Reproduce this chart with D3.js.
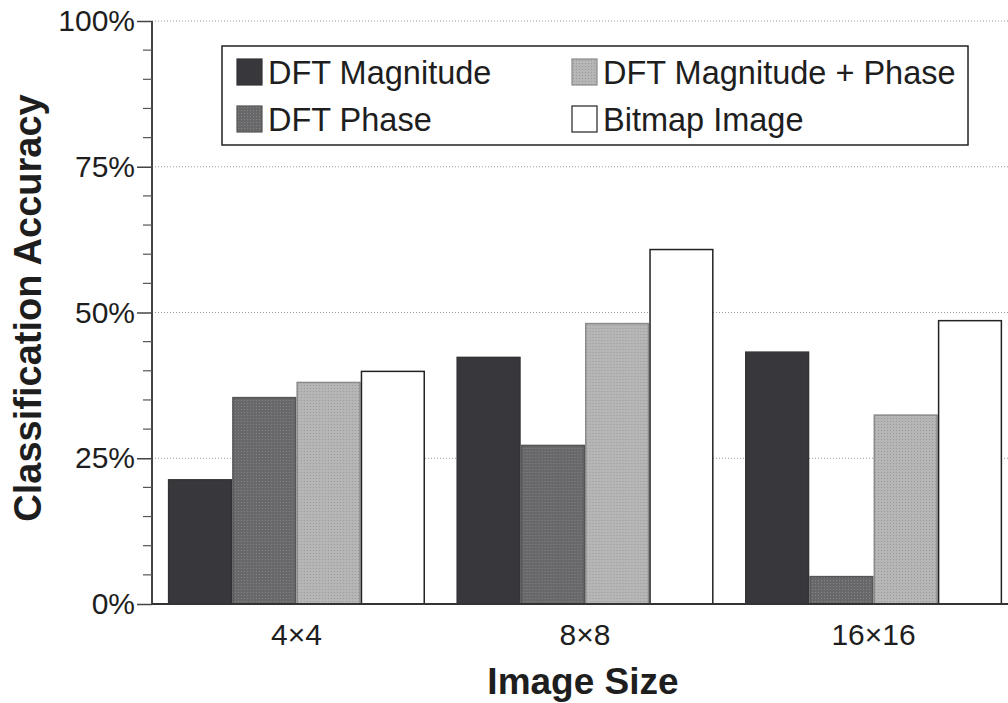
<!DOCTYPE html>
<html>
<head>
<meta charset="utf-8">
<script src="https://cdn.jsdelivr.net/npm/d3@7"></script>
<style>
    body { margin: 0; background: #fff; }
    svg { display: block; font-family: "Liberation Sans", Arial, Helvetica, sans-serif; }
</style>
</head>
<body>
<div id="chart"></div>
<script>
// Grouped bar chart: classification accuracy by image size, four feature types.

const categories = ["4\u00d74", "8\u00d78", "16\u00d716"];
const seriesNames = ["DFT Magnitude", "DFT Phase", "DFT Magnitude + Phase", "Bitmap Image"];

const dftMagnitude = [21.3, 42.3, 43.2];
const dftPhase = [35.4, 27.2, 4.7];
const dftMagPhase = [38.0, 48.1, 32.4];
const bitmapImage = [39.9, 60.8, 48.6];

const yTicks = [0, 25, 50, 75, 100];
const yMinorTicks = d3.range(0, 101, 5);

const seriesValues = [dftMagnitude, dftPhase, dftMagPhase, bitmapImage];

const width = 1008, height = 703;

const svg = d3.select("#chart").append("svg")
    .attr("width", width)
    .attr("height", height);

// halftone-ish fills, like the scanned print
const defs = svg.append("defs");
function dotPattern(id, base, dot) {
    const p = defs.append("pattern")
        .attr("id", id)
        .attr("width", 3).attr("height", 3)
        .attr("patternUnits", "userSpaceOnUse");
    p.append("rect").attr("width", 3).attr("height", 3).attr("fill", base);
    p.append("rect").attr("x", 1).attr("y", 1).attr("width", 1).attr("height", 1).attr("fill", dot);
}
dotPattern("pat-phase", "#68686a", "#858585");
dotPattern("pat-magphase", "#b6b6b6", "#999");

const fills = ["#38383c", "url(#pat-phase)", "url(#pat-magphase)", "#ffffff"];
const strokes = ["#333336", "#555", "#8a8a8a", "#222"];

const y = d3.scaleLinear().domain([0, 100]).range([604, 21]);

const x0 = d3.scaleBand()
    .domain(categories)
    .range([152, 1018])
    .paddingInner(0.109)
    .paddingOuter(0.055);

const x1 = d3.scaleBand()
    .domain(seriesNames)
    .range([0, x0.bandwidth()]);

// dotted gridlines
svg.append("g")
    .selectAll("line")
    .data(yTicks.filter(t => t > 0))
    .join("line")
    .attr("x1", 152).attr("x2", width)
    .attr("y1", d => y(d)).attr("y2", d => y(d))
    .attr("stroke", "#999")
    .attr("stroke-width", 1)
    .attr("stroke-dasharray", "1,2");

// bars
const groups = svg.append("g")
    .selectAll("g")
    .data(categories)
    .join("g")
    .attr("transform", d => `translate(${x0(d)},0)`);

groups.selectAll("rect")
    .data((c, ci) => seriesNames.map((s, si) => ({series: s, si: si, value: seriesValues[si][ci]})))
    .join("rect")
    .attr("x", d => x1(d.series) + 0.75)
    .attr("y", d => y(d.value))
    .attr("width", x1.bandwidth() - 1.5)
    .attr("height", d => y(0) - y(d.value))
    .attr("fill", d => fills[d.si])
    .attr("stroke", d => strokes[d.si])
    .attr("stroke-width", 1.5);

// y axis with minor ticks
const yAxis = svg.append("g")
    .attr("transform", "translate(152,0)")
    .call(d3.axisLeft(y).tickValues(yTicks).tickSize(15).tickPadding(2).tickFormat(d => d + "%"));
yAxis.select(".domain").attr("stroke", "#444").attr("stroke-width", 2);
yAxis.selectAll(".tick line").attr("stroke", "#444").attr("stroke-width", 1.5);
yAxis.selectAll(".tick text")
    .attr("font-size", 30)
    .attr("fill", "#1e1e1e")
    .attr("font-family", "'Liberation Sans', Arial, sans-serif");
yAxis.select(".domain").attr("d", `M0,${y(100)}V${y(0)}`);

svg.append("g")
    .selectAll("line")
    .data(yMinorTicks.filter(t => !yTicks.includes(t)))
    .join("line")
    .attr("x1", 143).attr("x2", 152)
    .attr("y1", d => y(d)).attr("y2", d => y(d))
    .attr("stroke", "#555")
    .attr("stroke-width", 1.2);

// x baseline
svg.append("line")
    .attr("x1", 152).attr("x2", width)
    .attr("y1", y(0)).attr("y2", y(0))
    .attr("stroke", "#333")
    .attr("stroke-width", 2);

// x category labels
svg.append("g")
    .selectAll("text")
    .data(categories)
    .join("text")
    .attr("x", d => x0(d) + x0.bandwidth() / 2)
    .attr("y", 645)
    .attr("text-anchor", "middle")
    .attr("font-size", 30)
    .attr("fill", "#1e1e1e")
    .text(d => d);

// axis titles
svg.append("text")
    .attr("x", 583)
    .attr("y", 694)
    .attr("text-anchor", "middle")
    .attr("font-size", 37)
    .attr("font-weight", "bold")
    .attr("fill", "#1e1e1e")
    .text("Image Size");

svg.append("text")
    .attr("transform", "translate(41,308) rotate(-90)")
    .attr("text-anchor", "middle")
    .attr("font-size", 38)
    .attr("font-weight", "bold")
    .attr("fill", "#1e1e1e")
    .text("Classification Accuracy");

// legend
const legend = svg.append("g").attr("transform", "translate(222,46)");
legend.append("rect")
    .attr("width", 746).attr("height", 99)
    .attr("fill", "#fff")
    .attr("stroke", "#222")
    .attr("stroke-width", 1.5);

const legendPos = [[15, 13], [15, 60], [350, 13], [350, 60]];
seriesNames.forEach((name, i) => {
    const item = legend.append("g").attr("transform", `translate(${legendPos[i][0]},${legendPos[i][1]})`);
    item.append("rect")
        .attr("width", 25).attr("height", 26)
        .attr("fill", fills[i])
        .attr("stroke", strokes[i])
        .attr("stroke-width", 1.2);
    item.append("text")
        .attr("x", 31)
        .attr("y", 25)
        .attr("font-size", 32.5)
        .attr("fill", "#1e1e1e")
        .text(name);
});
</script>
</body>
</html>
